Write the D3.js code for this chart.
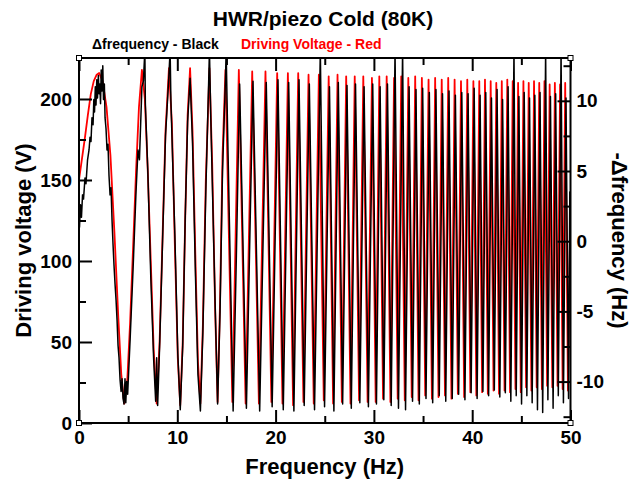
<!DOCTYPE html>
<html>
<head>
<meta charset="utf-8">
<script src="https://cdn.jsdelivr.net/npm/d3@7"></script>
<style>
  body { margin: 0; background: #fff; }
  svg { display: block; }
  text { font-family: "Liberation Sans", Arial, Helvetica, sans-serif; font-weight: bold; }
</style>
</head>
<body>
<svg id="chart"></svg>
<script>
// Driving voltage (V) vs frequency (Hz) - red trace
const voltage = [
  [0,150],[0.3,163],[0.6,176],[0.9,190],[1.2,203],[1.5,211],[1.8,215],[2.05,216],[2.4,211],[2.8,195],[3.2,165],[3.6,118],[4.0,65],[4.3,30],[4.6,12],
  [4.9,25],[5.2,62],[5.5,108],[5.8,155],[6.1,195],[6.4,218],[6.7,200],[7.0,155],[7.3,100],[7.6,45],[7.9,12],
  [8.2,50],[8.5,115],[8.8,180],[9.15,219],[9.45,185],[9.75,110],[10.05,40],[10.3,11],
  [10.55,50],[10.8,125],[11.05,190],[11.3,219],[11.55,180],[11.85,100],[12.1,38],[12.35,12],
  [12.6,60],[12.9,150],[13.27,219],[13.55,160],[13.85,70],[14.1,13],[14.35,75],[14.6,165],[14.9,218],
  [15.25,115],[15.6,13],[15.93,115],[16.26,218],[16.95,12],[17.62,217],[18.3,12],[18.97,217],[19.57,13],
  [20.16,216],[20.7,12],[21.25,216],[21.78,11],[22.3,216],[22.83,13],[23.35,215],[23.88,12],[24.4,215],[24.9,14],
  [25.4,214],[25.85,12],[26.3,215],[26.74,13],[27.18,214],[27.62,12],[28.05,214],[28.49,14],[28.92,214],[29.36,13],
  [29.8,213],[30.18,13],[30.55,214],[30.93,15],[31.3,214],[31.68,13],[32.05,213],[32.42,15],[32.78,214],[33.14,14],
  [33.5,213],[33.85,16],[34.2,214],[34.54,14],[34.88,213],[35.22,17],[35.56,212],[35.9,15],[36.23,213],[36.57,16],
  [36.9,212],[37.23,17],[37.56,213],[37.89,15],[38.21,212],[38.54,18],[38.86,211],[39.18,16],[39.5,212],[39.81,19],
  [40.12,211],[40.42,17],[40.72,211],[41.01,19],[41.3,212],[41.59,18],[41.88,211],[42.17,20],[42.45,210],[42.73,18],
  [43.01,211],[43.29,20],[43.57,212],[43.85,19],[44.12,211],[44.4,21],[44.67,210],[44.94,19],[45.21,211],[45.48,22],
  [45.75,210],[46.02,20],[46.29,211],[46.56,22],[46.82,210],[47.09,21],[47.35,211],[47.62,23],[47.88,209],[48.15,22],
  [48.41,210],[48.68,23],[48.94,209],[49.2,21],[49.46,210],[49.74,20],[50.0,140]
];

// -delta frequency (Hz) vs frequency (Hz) - black trace
const deltaFreq = [
  [0,2.0],[0.05,1.0],[0.15,2.6],[0.25,1.7],[0.36,3.3],[0.46,3.0],[0.61,4.5],[0.71,4.1],[0.87,5.8],[1.02,6.5],
  [1.12,7.4],[1.22,7.1],[1.32,8.8],[1.43,8.3],[1.51,10.1],[1.58,9.2],[1.66,11.0],[1.73,9.7],[1.81,11.5],[1.88,10.2],
  [1.97,11.8],[2.04,10.5],[2.12,11.2],[2.19,9.8],[2.26,12.2],[2.34,10.7],[2.42,12.5],[2.49,10.1],[2.58,11.2],[2.65,8.8],
  [2.75,8.0],[2.85,6.5],[2.95,6.9],[3.05,4.7],[3.16,3.3],[3.26,3.8],[3.36,1.5],[3.46,-0.2],[3.56,-1.7],[3.67,-3.1],
  [3.77,-4.2],[3.87,-5.6],[3.97,-7.4],[4.07,-8.3],[4.18,-9.9],[4.28,-10.7],[4.38,-9.8],[4.48,-11.2],[4.58,-11.6],
  [4.68,-9.8],[4.76,-11.5],[4.85,-10.0],[4.95,-10.9],[5.2,-7.0],[5.5,-2.0],[5.8,3.5],[6.0,6.5],[6.15,5.8],[6.4,11.0],
  [6.55,11.4],[6.7,13.6],[6.75,9.8],[7.0,5.0],[7.3,-2.5],[7.6,-8.5],[7.8,-11.4],[7.9,-8.3],[8.0,-11.7],[8.2,-7.5],
  [8.5,0.0],[8.8,7.5],[9.1,11.2],[9.27,13.6],[9.35,10.0],[9.75,0.5],[10.05,-8.0],[10.3,-12.0],[10.55,-7.5],[10.8,1.5],
  [11.05,8.5],[11.3,11.6],[11.55,7.0],[11.85,-2.5],[12.1,-9.5],[12.35,-12.1],[12.6,-6.5],[12.9,3.5],[13.2,11.6],[13.27,13.6],
  [13.4,9.0],[13.85,-4.5],[14.1,-11.6],[14.35,-5.0],[14.6,5.0],[14.9,11.5],[14.97,13.6],[15.1,8.5],[15.68,-12.1],[16.01,-1.0],
  [16.34,11.2],[17.03,-11.9],[17.7,11.4],[18.38,-12.1],[19.05,11.3],[19.65,-11.8],[20.24,11.5],[20.78,-12.0],[21.33,11.3],[21.86,-12.1],
  [22.38,11.5],[22.91,-11.7],[23.43,11.2],[23.96,-12.0],[24.55,13.6],[24.98,-11.8],[25.48,11.0],[25.93,-12.1],[26.38,11.3],[26.82,-11.6],
  [27.26,11.1],[27.7,-11.9],[28.13,11.2],[28.57,-11.5],[29.0,11.0],[29.44,-11.8],[29.88,11.2],[30.26,-11.6],[30.63,11.0],[31.01,-11.3],
  [31.38,11.2],[31.76,-11.7],[32.15,13.6],[32.5,-11.9],[32.92,13.6],[33.22,-12.0],[33.58,11.0],[33.93,-11.4],[34.28,10.8],[34.62,-11.6],
  [34.96,10.9],[35.3,-11.2],[35.64,10.6],[35.98,-11.5],[36.31,10.8],[36.65,-11.0],[36.98,10.5],[37.31,-11.4],[37.64,10.7],[37.97,-11.2],
  [38.29,10.4],[38.62,-10.9],[38.94,10.6],[39.26,-11.3],[39.58,10.5],[39.89,-10.8],[40.2,10.9],[40.5,-11.2],[40.8,10.4],[41.09,-10.7],
  [41.38,10.6],[41.67,-11.0],[41.96,10.2],[42.25,-10.6],[42.53,10.8],[42.81,-11.1],[43.09,10.1],[43.37,-10.8],[43.65,11.0],[43.93,-11.4],
  [44.25,13.6],[44.48,-11.0],[44.75,10.3],[45.02,-11.6],[45.29,10.6],[45.56,-11.0],[45.83,10.2],[46.1,-11.5],[46.37,10.4],[46.64,-12.0],
  [46.9,10.6],[47.17,-12.2],[47.47,13.6],[47.7,-11.3],[47.96,10.3],[48.23,-11.9],[48.49,10.5],[48.76,-11.0],[49.04,13.6],[49.28,-11.5],
  [49.54,10.2],[49.8,-11.2],[49.88,-2.0],[49.93,3.5],[49.97,0.5],[50.0,2.0]
];

// Tick values
const xMajor = [0, 10, 20, 30, 40, 50];
const xMinor = [5, 15, 25, 35, 45];
const leftMajor = [0, 50, 100, 150, 200];
const leftMinor = [25, 75, 125, 175];
const rightMajor = [-10, -5, 0, 5, 10];
const rightMinor = [-12.5, -7.5, -2.5, 2.5, 7.5, 12.5];

const width = 639, height = 481;
const plot = { left: 79, right: 570.5, top: 58, bottom: 423 };

const svg = d3.select("#chart")
  .attr("width", width)
  .attr("height", height);

const x = d3.scaleLinear().domain([0, 50]).range([plot.left, plot.right]);
const yLeft = d3.scaleLinear().domain([0, 225.3]).range([plot.bottom, plot.top]);
const yRight = d3.scaleLinear().domain([-12.95, 13.05]).range([plot.bottom, plot.top]);

// clip the traces to the frame
svg.append("clipPath").attr("id", "clip")
  .append("rect")
  .attr("x", plot.left).attr("y", plot.top)
  .attr("width", plot.right - plot.left)
  .attr("height", plot.bottom - plot.top);

const traces = svg.append("g").attr("clip-path", "url(#clip)");

const voltLine = d3.line().x(d => x(d[0])).y(d => yLeft(d[1]));
const dfLine = d3.line().x(d => x(d[0])).y(d => yRight(d[1]));

traces.append("path")
  .datum(voltage)
  .attr("d", voltLine)
  .attr("fill", "none")
  .attr("stroke", "#ff0000")
  .attr("stroke-width", 1.8)
  .attr("stroke-linejoin", "round");

traces.append("path")
  .datum(deltaFreq)
  .attr("d", dfLine)
  .attr("fill", "none")
  .attr("stroke", "#000")
  .attr("stroke-width", 1.5)
  .attr("stroke-linejoin", "round");

// axes: ticks point inward
function styleAxis(g, fontSize) {
  g.select(".domain").remove();
  g.selectAll(".tick line").attr("stroke", "#000").attr("stroke-width", 2);
  g.attr("font-size", fontSize);
  g.selectAll("text").attr("fill", "#000");
}

const fmt = d => String(d);

svg.append("g")
  .attr("transform", `translate(0,${plot.bottom})`)
  .call(d3.axisBottom(x).tickValues(xMajor).tickSize(-13).tickPadding(8).tickFormat(fmt))
  .call(g => styleAxis(g, 19));
svg.append("g")
  .attr("transform", `translate(0,${plot.bottom})`)
  .call(d3.axisBottom(x).tickValues(xMinor).tickSize(-7).tickFormat(""))
  .call(g => styleAxis(g, 19));

svg.append("g")
  .attr("transform", `translate(0,${plot.top})`)
  .call(d3.axisTop(x).tickValues(xMajor).tickSize(-13).tickFormat(""))
  .call(g => styleAxis(g, 19));
svg.append("g")
  .attr("transform", `translate(0,${plot.top})`)
  .call(d3.axisTop(x).tickValues(xMinor).tickSize(-7).tickFormat(""))
  .call(g => styleAxis(g, 19));

svg.append("g")
  .attr("transform", `translate(${plot.left},0)`)
  .call(d3.axisLeft(yLeft).tickValues(leftMajor).tickSize(-13).tickPadding(7).tickFormat(fmt))
  .call(g => styleAxis(g, 19));
svg.append("g")
  .attr("transform", `translate(${plot.left},0)`)
  .call(d3.axisLeft(yLeft).tickValues(leftMinor).tickSize(-7).tickFormat(""))
  .call(g => styleAxis(g, 19));

svg.append("g")
  .attr("transform", `translate(${plot.right},0)`)
  .call(d3.axisRight(yRight).tickValues(rightMajor).tickSize(-13).tickPadding(6).tickFormat(fmt))
  .call(g => styleAxis(g, 19));
svg.append("g")
  .attr("transform", `translate(${plot.right},0)`)
  .call(d3.axisRight(yRight).tickValues(rightMinor).tickSize(-7).tickFormat(""))
  .call(g => styleAxis(g, 19));

// frame
svg.append("rect")
  .attr("x", plot.left).attr("y", plot.top)
  .attr("width", plot.right - plot.left)
  .attr("height", plot.bottom - plot.top)
  .attr("fill", "none")
  .attr("stroke", "#000")
  .attr("stroke-width", 2);

// little corner markers
[[plot.left, plot.top], [plot.right, plot.top], [plot.left, plot.bottom], [plot.right, plot.bottom]].forEach(c => {
  svg.append("rect")
    .attr("x", c[0] - 2.5).attr("y", c[1] - 2.5)
    .attr("width", 5).attr("height", 5)
    .attr("fill", "#fff")
    .attr("stroke", "#000")
    .attr("stroke-width", 1);
});

// title and legend
svg.append("text")
  .attr("x", 323).attr("y", 26)
  .attr("text-anchor", "middle")
  .attr("font-size", 21)
  .text("HWR/piezo Cold (80K)");

svg.append("text")
  .attr("x", 92).attr("y", 49)
  .attr("font-size", 14)
  .attr("fill", "#000")
  .text("Δfrequency - Black");

svg.append("text")
  .attr("x", 241).attr("y", 49)
  .attr("font-size", 14)
  .attr("fill", "#ff0000")
  .text("Driving Voltage - Red");

// axis titles
svg.append("text")
  .attr("x", (plot.left + plot.right) / 2).attr("y", 474)
  .attr("text-anchor", "middle")
  .attr("font-size", 22)
  .text("Frequency (Hz)");

svg.append("text")
  .attr("transform", `translate(31,${(plot.top + plot.bottom) / 2}) rotate(-90)`)
  .attr("text-anchor", "middle")
  .attr("font-size", 22)
  .text("Driving voltage (V)");

svg.append("text")
  .attr("transform", `translate(612,${(plot.top + plot.bottom) / 2}) rotate(90)`)
  .attr("text-anchor", "middle")
  .attr("font-size", 22)
  .text("-Δfrequency (Hz)");
</script>
</body>
</html>
